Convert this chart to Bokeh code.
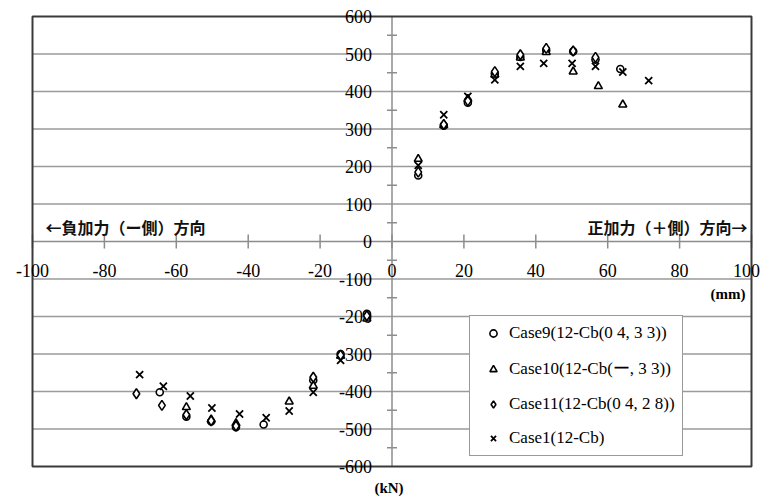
from bokeh.plotting import figure
from bokeh.models import Range1d, Legend, LegendItem, ColumnDataSource
from bokeh.core.properties import value
from bokeh.embed import file_html
from bokeh.resources import INLINE
import math

# ---- data ----
case9_x = [7.3, 14.4, 21.1, 28.6, 35.7, 42.9, 50.4, 56.6, 63.5,
           -7.0, -14.3, -21.9, -35.7, -43.4, -50.3, -57.2, -64.6]
case9_y = [176, 309, 370, 448, 492, 510, 507, 485, 460,
           -193, -300, -370, -488, -495, -480, -467, -402]

case10_x = [7.3, 14.4, 21.1, 28.6, 35.7, 42.9, 50.4, 57.4, 64.2,
            -7.0, -14.3, -21.9, -28.6, -43.4, -50.3, -57.2]
case10_y = [220, 310, 380, 445, 490, 505, 453, 414, 365,
            -206, -305, -385, -427, -485, -475, -442]

case11_x = [7.3, 14.4, 21.1, 28.6, 35.7, 42.9, 50.4, 56.6,
            -7.0, -14.3, -21.9, -43.4, -50.3, -57.2, -64.0, -71.1]
case11_y = [185, 312, 375, 453, 498, 515, 508, 491,
            -198, -303, -362, -492, -478, -462, -437, -406]

case1_x = [7.3, 14.4, 21.1, 28.6, 35.7, 42.2, 50.1, 56.6, 64.2, 71.4,
           -14.3, -21.9, -28.6, -35.0, -42.4, -50.1, -56.1, -63.6, -70.2]
case1_y = [203, 338, 387, 431, 467, 475, 475, 467, 452, 429,
           -317, -402, -452, -470, -460, -444, -412, -386, -355]

series_names = ["Case9(12-Cb(0 4, 3 3))", "Case10(12-Cb(ー, 3 3))",
                "Case11(12-Cb(0 4, 2 8))", "Case1(12-Cb)"]

X_MIN, X_MAX = -100, 100
Y_MIN, Y_MAX = -600, 600
x_ticks = [-100, -80, -60, -40, -20, 0, 20, 40, 60, 80, 100]
x_tick_labels = [str(v) for v in x_ticks]
y_ticks = list(range(-600, 601, 100))
y_tick_labels = [str(v) for v in y_ticks]
y_minor = list(range(-550, 551, 100))
x_unit = "(mm)"
y_unit = "(kN)"
neg_label = "←負加力（ー側）方向"
pos_label = "正加力（＋側）方向→"

SERIF = "Liberation Serif"
CJK = "Noto Sans CJK JP"
AX = "#8c8c8c"
GRID = "#9a9a9a"

# page layout: plotting box spans px 32..751 (x) and 16..466 (y)
W, H = 763, 498
L, R, T, B = 32, 751, 16, 466
sx = (R - L) / (X_MAX - X_MIN)
sy = (B - T) / (Y_MAX - Y_MIN)
x_range = Range1d(X_MIN - L / sx, X_MAX + (W - R) / sx)
y_range = Range1d(Y_MIN - (H - B) / sy, Y_MAX + T / sy)

p = figure(width=W, height=H, output_backend="svg", toolbar_location=None,
           x_range=x_range, y_range=y_range,
           x_axis_location=None, y_axis_location=None,
           min_border=0)
p.outline_line_color = None
p.background_fill_color = "white"
p.border_fill_color = "white"
for g in p.grid:
    g.visible = False

# horizontal grid lines
grid_y = [v for v in y_ticks if Y_MIN < v < Y_MAX and v != 0]
p.segment(x0=[X_MIN] * len(grid_y), x1=[X_MAX] * len(grid_y), y0=grid_y, y1=grid_y,
          line_color=GRID, line_width=1.5)

# axes through the origin
p.segment(x0=[X_MIN], x1=[X_MAX], y0=[0], y1=[0], line_color=AX, line_width=1.5)
p.segment(x0=[0], x1=[0], y0=[Y_MIN], y1=[Y_MAX], line_color=AX, line_width=1.5)
p.scatter(x=x_ticks, y=[0] * len(x_ticks), marker="dash", angle=math.pi / 2,
          size=14, line_color=AX, line_width=1.5)
p.scatter(x=[0] * len(y_minor), y=y_minor, marker="dash", size=10,
          line_color=AX, line_width=1.5)

# plotting box border
p.quad(left=[X_MIN], right=[X_MAX], bottom=[Y_MIN], top=[Y_MAX],
       fill_color=None, line_color="#3a3a3a", line_width=2)

# tick labels (the right-most label is nudged inward so it stays on the page)
x_label_src = ColumnDataSource(dict(
    x=x_ticks, y=[0] * len(x_ticks), t=x_tick_labels,
    dx=[-5 if v == X_MAX else 0 for v in x_ticks]))
p.text(x="x", y="y", text="t", source=x_label_src, x_offset="dx",
       text_align="center", text_baseline="middle", y_offset=29,
       text_font=value(SERIF), text_font_size="18px", text_color="black")
p.text(x=[0] * len(y_ticks), y=y_ticks, text=y_tick_labels, text_align="right",
       text_baseline="middle", x_offset=-20, text_font=value(SERIF),
       text_font_size="18px", text_color="black")

p.text(x=[X_MAX], y=[0], text=[x_unit], text_align="right", text_baseline="middle",
       x_offset=-6, y_offset=52, text_font=value(SERIF), text_font_size="15px",
       text_font_style="bold", text_color="black")
p.text(x=[0], y=[Y_MIN], text=[y_unit], text_align="center", text_baseline="middle",
       x_offset=-3, y_offset=21, text_font=value(SERIF), text_font_size="15px",
       text_font_style="bold", text_color="black")
p.text(x=[X_MIN], y=[0], text=[neg_label], text_align="left", text_baseline="middle",
       x_offset=13, y_offset=-15, text_font=value(CJK), text_font_size="16px",
       text_font_style="bold", text_color="#111111")
p.text(x=[X_MAX], y=[0], text=[pos_label], text_align="right", text_baseline="middle",
       x_offset=-4, y_offset=-15, text_font=value(CJK), text_font_size="16px",
       text_font_style="bold", text_color="#111111")

r9 = p.scatter(case9_x, case9_y, marker="circle", size=7, line_color="black",
               fill_color="white", line_width=1.6)
r10 = p.scatter(case10_x, case10_y, marker="triangle", size=8, line_color="black",
                fill_color="white", line_width=1.6)
r11 = p.scatter(case11_x, case11_y, marker="diamond", size=10, line_color="black",
                fill_color="white", line_width=1.6)
r1 = p.scatter(case1_x, case1_y, marker="x", size=10, line_color="black",
               line_width=1.8)

legend = Legend(items=[LegendItem(label=n, renderers=[r])
                       for n, r in zip(series_names, [r9, r10, r11, r1])],
                location=(469, H - 456), padding=7, spacing=14, label_height=18,
                glyph_height=18, glyph_width=32, label_standoff=0,
                label_text_font=SERIF, label_text_font_size="17px",
                label_text_color="black",
                border_line_color="#333333", border_line_width=1.5,
                background_fill_alpha=1.0, margin=0)
p.add_layout(legend, "center")

open("out.html", "w").write(file_html(p, INLINE))
